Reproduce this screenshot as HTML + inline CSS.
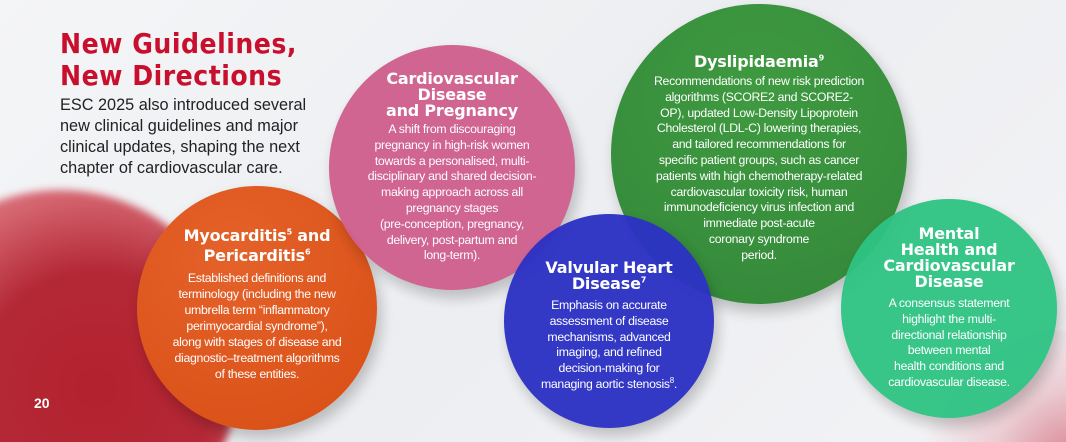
<!DOCTYPE html>
<html style="width:1066px;height:442px;overflow:hidden"><head><meta charset="utf-8"><style>
html,body{margin:0;padding:0}
body{width:1066px;height:442px;overflow:hidden;position:relative;background:linear-gradient(135deg,#f4f5f7 0%,#eceef1 50%,#f3f3f5 100%);font-family:"Liberation Sans",sans-serif}
.blob{position:absolute;border-radius:50%}
.c{position:absolute;border-radius:50%;color:#fff;text-align:center;box-shadow:4px 8px 14px rgba(0,0,0,0.22);box-sizing:border-box}
.c h3{margin:0;font-size:16px;line-height:16px;font-weight:bold;font-family:"DejaVu Sans","Liberation Sans",sans-serif;letter-spacing:-0.2px}
.c p{margin:3px 0 0;font-size:12.3px;line-height:15.8px;letter-spacing:-0.3px}
sup{font-size:8px;line-height:0}
</style></head><body>
<div style="position:absolute;left:0;top:0;width:1066px;height:442px;overflow:hidden">
<div class="blob" style="left:-120px;top:190px;width:360px;height:360px;background:radial-gradient(circle at 60% 55%,#b3222e 0%,#b42836 40%,#d86d77 70%,rgba(240,200,205,0) 100%);filter:blur(4px)"></div>
<div class="blob" style="left:920px;top:330px;width:260px;height:200px;background:radial-gradient(circle at 60% 70%,#d67a86 0%,rgba(230,180,190,0.6) 40%,rgba(240,220,225,0) 75%)"></div>
<div style="position:absolute;left:60px;top:28px;color:#c8102e;font-family:'DejaVu Sans Condensed','Liberation Sans Narrow',sans-serif;font-weight:bold;font-size:28px;line-height:32px;letter-spacing:0.5px">New Guidelines,<br>New Directions</div>
<div style="position:absolute;left:60px;top:95px;color:#222;font-size:16.3px;line-height:21px">ESC 2025 also introduced several<br>new clinical guidelines and major<br>clinical updates, shaping the next<br>chapter of cardiovascular care.</div>
<div style="position:absolute;left:34px;top:395px;color:#fff;font-weight:bold;font-size:14px">20</div>

<div class="c" style="left:137px;top:186px;width:240px;height:244px;background:radial-gradient(circle at 40% 30%,#e4622a,#d84e14);padding-top:40px">
<h3 style="line-height:20px">Myocarditis<sup>5</sup> and<br>Pericarditis<sup>6</sup></h3>
<p style="margin-top:4px;line-height:16px">Established definitions and<br>terminology (including the new<br>umbrella term “inflammatory<br>perimyocardial syndrome”),<br>along with stages of disease and<br>diagnostic–treatment algorithms<br>of these entities.</p></div>

<div class="c" style="left:329px;top:45px;width:246px;height:245px;background:#d0618e;opacity:0.97;padding-top:26px">
<h3>Cardiovascular<br>Disease<br>and Pregnancy</h3>
<p>A shift from discouraging<br>pregnancy in high-risk women<br>towards a personalised, multi-<br>disciplinary and shared decision-<br>making approach across all<br>pregnancy stages<br>(pre-conception, pregnancy,<br>delivery, post-partum and<br>long-term).</p></div>

<div class="c" style="left:611px;top:4px;width:296px;height:300px;background:radial-gradient(circle at 50% 30%,#3f9a40,#33873a);padding-top:50px">
<h3>Dyslipidaemia<sup>9</sup></h3>
<p style="margin-top:4px">Recommendations of new risk prediction<br>algorithms (SCORE2 and SCORE2-<br>OP), updated Low-Density Lipoprotein<br>Cholesterol (LDL-C) lowering therapies,<br>and tailored recommendations for<br>specific patient groups, such as cancer<br>patients with high chemotherapy-related<br>cardiovascular toxicity risk, human<br>immunodeficiency virus infection and<br>immediate post-acute<br>coronary syndrome<br>period.</p></div>

<div class="c" style="left:504px;top:214px;width:210px;height:214px;background:#2c32c4;opacity:0.96;padding-top:46px">
<h3>Valvular Heart<br>Disease<sup>7</sup></h3>
<p style="margin-top:6px">Emphasis on accurate<br>assessment of disease<br>mechanisms, advanced<br>imaging, and refined<br>decision-making for<br>managing aortic stenosis<sup>8</sup>.</p></div>

<div class="c" style="left:841px;top:199px;width:216px;height:219px;background:#2ec383;opacity:0.95;padding-top:27px">
<h3>Mental<br>Health and<br>Cardiovascular<br>Disease</h3>
<p style="margin-top:6px">A consensus statement<br>highlight the multi-<br>directional relationship<br>between mental<br>health conditions and<br>cardiovascular disease.</p></div>
</div>
</body></html>
